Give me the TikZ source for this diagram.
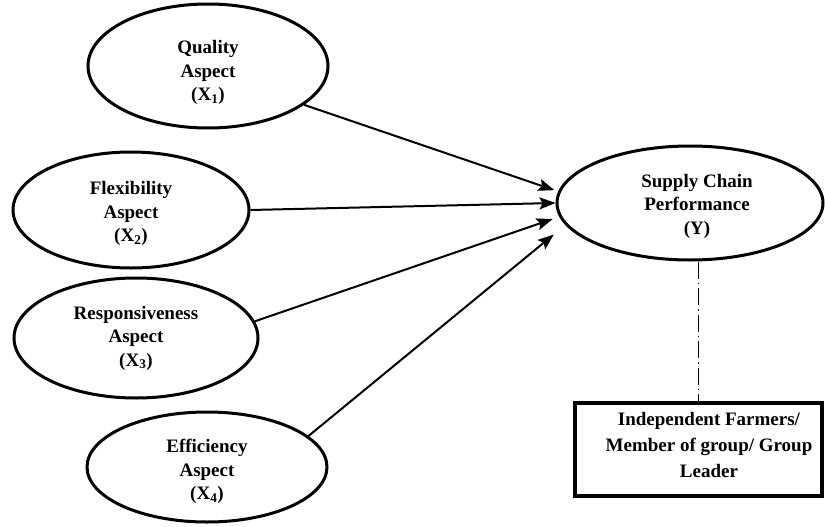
\documentclass[tikz,border=0pt]{standalone}
\usepackage{fontspec}
\setmainfont{Liberation Serif}
\usetikzlibrary{shapes.geometric,arrows.meta}
\newcommand{\toppad}[1]{\rule{0pt}{#1pt}}
\begin{document}
\begin{tikzpicture}[x=1pt,y=-1pt,
  ell/.style={ellipse, draw, line width=3pt, inner sep=0pt},
  lbl/.style={align=center, font=\fontsize{19}{23.5}\selectfont\bfseries},
  boxlbl/.style={align=center, font=\fontsize{19}{26}\selectfont\bfseries},
  arr/.style={line width=2pt, -{Stealth[length=16pt,width=12pt,inset=3pt]}},
  dd/.style={line width=1.3pt, dash pattern=on 17pt off 4pt on 1.5pt off 4pt},
  ]
\useasboundingbox (0,0) rectangle (825,527);
\node[ell, minimum width=240, minimum height=124, lbl] (q) at (208,66) {\toppad{27}Quality\\Aspect\\(X\textsubscript{1})};
\node[ell, minimum width=236, minimum height=116, lbl] (f) at (131,210) {\toppad{21}Flexibility\\Aspect\\(X\textsubscript{2})};
\node[ell, minimum width=244, minimum height=120, lbl] (r) at (136,338) {Responsiveness\\Aspect\\(X\textsubscript{3})};
\node[ell, minimum width=240, minimum height=110, lbl] (e) at (207,467) {\toppad{23}Efficiency\\Aspect\\(X\textsubscript{4})};
\node[ell, minimum width=266, minimum height=114] (s) at (690,203) {};
\node[lbl] (st) at (697,206) {Supply Chain\\Performance\\(Y)};
\node[draw, line width=3.5pt, minimum width=247, minimum height=93] (b) at (698.5,449.5) {};
\node[boxlbl] (bt) at (709,445) {Independent Farmers/\\Member of group/ Group\\Leader};
\draw[arr, shorten >=4pt] (q.-22.3) -- (s.175.8);
\draw[arr] (f.east) -- (s.west);
\draw[arr, shorten >=7pt] (r.8.5) -- (s.186.6);
\draw[arr, shorten >=15pt] (e.17.6) -- (s.190.6);
\draw[dd] (s.south -| b.north) -- (b.north);
\end{tikzpicture}
\end{document}
